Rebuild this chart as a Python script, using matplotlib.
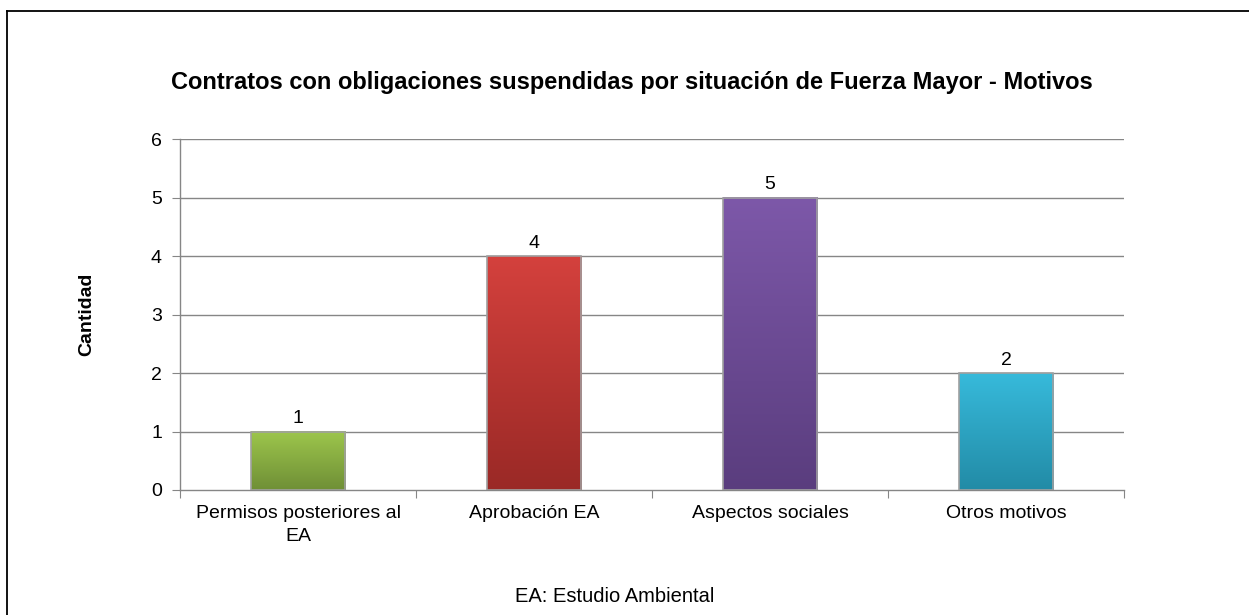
import numpy as np
import matplotlib.pyplot as plt
from matplotlib.colors import LinearSegmentedColormap
from matplotlib.patches import Rectangle

plt.rcParams['font.family'] = ['Liberation Sans', 'DejaVu Sans']

categories = ["Permisos posteriores al\nEA", "Aprobación EA", "Aspectos sociales", "Otros motivos"]
values = [1, 4, 5, 2]
# (top, bottom) colours of each bar's gradient
bar_colors = [("#9DC64C", "#6F8F36"), ("#D4413D", "#9A2926"),
              ("#7D58A9", "#5A3D7E"), ("#37BADB", "#228BA6")]

title = "Contratos con obligaciones suspendidas por situación de Fuerza Mayor - Motivos"
ylabel = "Cantidad"
note = "EA: Estudio Ambiental"

W, H, dpi = 1249, 615, 100
fig = plt.figure(figsize=(W / dpi, H / dpi), dpi=dpi)
ax = fig.add_axes([180 / W, 1 - 490 / H, (1124 - 180) / W, (490 - 139) / H])

# outer frame (only left/top visible in the original crop)
fig.add_artist(plt.Line2D([7 / W, 7 / W], [0, 1 - 11 / H], transform=fig.transFigure,
                          color="black", lw=1.3))
fig.add_artist(plt.Line2D([7 / W, 1], [1 - 11 / H, 1 - 11 / H], transform=fig.transFigure,
                          color="black", lw=1.3))

grid_col = "#868686"
ax.set_ylim(0, 6)
ax.set_xlim(0, len(categories))
ax.set_yticks(range(0, 7))
for y in range(1, 7):
    ax.axhline(y, color=grid_col, lw=1.0, zorder=1)

bw = 0.4
for i, (v, (ctop, cbot)) in enumerate(zip(values, bar_colors)):
    x0 = i + 0.5 - bw / 2
    cmap = LinearSegmentedColormap.from_list("g%d" % i, [cbot, ctop])
    grad = np.linspace(0, 1, 256).reshape(-1, 1)
    ax.imshow(grad, cmap=cmap, origin="lower", aspect="auto",
              extent=(x0, x0 + bw, 0, v), zorder=3)
    ax.add_patch(Rectangle((x0, 0), bw, v, facecolor="none", edgecolor="#a0a0a0",
                           lw=1.2, zorder=4))
    ax.text(i + 0.5, v + 0.07, str(v), ha="center", va="bottom", fontsize=14, zorder=5)

ax.set_xlim(0, len(categories))
ax.set_ylim(0, 6)

for s in ["top", "right"]:
    ax.spines[s].set_visible(False)
for s in ["left", "bottom"]:
    ax.spines[s].set_color(grid_col)
    ax.spines[s].set_linewidth(1.0)

ax.set_xticks(range(0, len(categories) + 1))
ax.set_xticklabels([])
ax.set_xticks([i + 0.5 for i in range(len(categories))], minor=True)
ax.set_xticklabels(categories, minor=True, fontsize=14, linespacing=1.45)
ax.tick_params(axis="x", which="major", length=6, color=grid_col)
ax.tick_params(axis="x", which="minor", length=0, pad=11)
ax.tick_params(axis="y", length=6, color=grid_col, labelsize=14, pad=7)

ax.set_ylabel(ylabel, fontsize=14, fontweight="bold")
ax.yaxis.set_label_coords((95 - 180) / (1124 - 180), 0.5)

fig.text(632 / W, 1 - 82 / H, title, ha="center", va="center", fontsize=17, fontweight="bold")
fig.text(615 / W, 1 - 597 / H, note, ha="center", va="center", fontsize=14.5)

fig.savefig("out.png", dpi=dpi)
